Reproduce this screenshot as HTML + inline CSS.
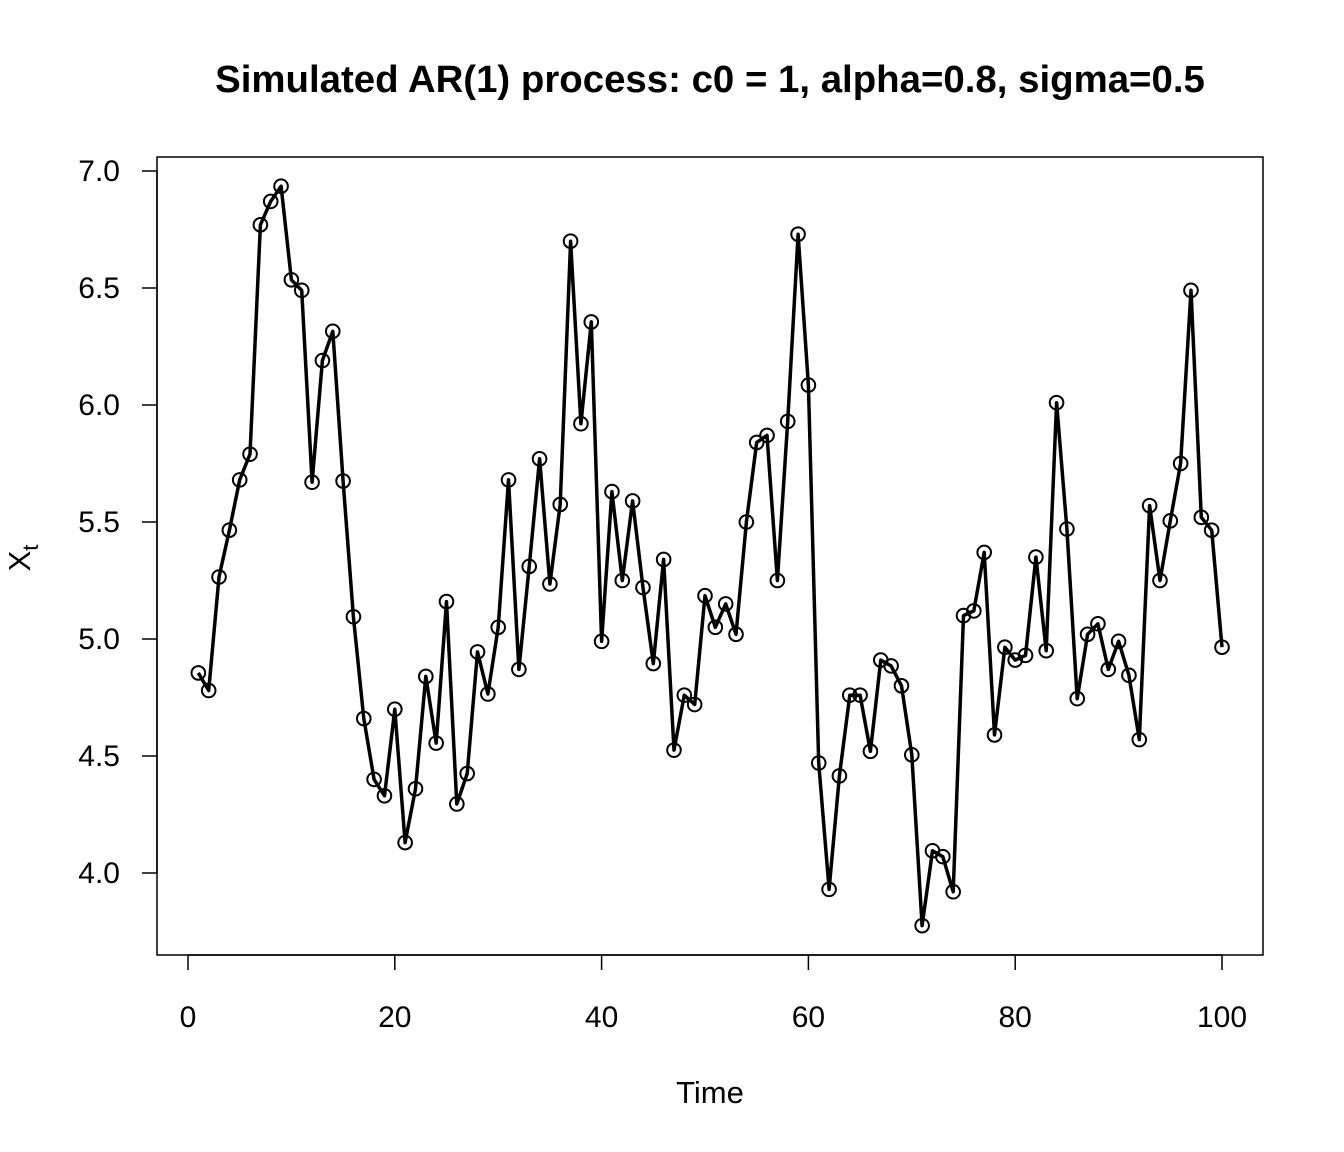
<!DOCTYPE html>
<html><head><meta charset="utf-8"><style>
html,body{margin:0;padding:0;background:#fff;}
svg{display:block;font-family:"Liberation Sans",Arial,sans-serif;}
</style></head><body>
<svg id="chart" width="1344" height="1152" viewBox="0 0 1344 1152">
<rect x="0" y="0" width="1344" height="1152" fill="#fff"/>
<text x="710" y="92" text-anchor="middle" font-size="38.4" font-weight="bold">Simulated AR(1) process: c0 = 1, alpha=0.8, sigma=0.5</text>
<rect x="157" y="157" width="1106" height="798" fill="none" stroke="#000" stroke-width="1.5"/>
<text x="710" y="1103" text-anchor="middle" font-size="31">Time</text>
<text transform="translate(30,558) rotate(-90)" text-anchor="middle" font-size="31">X<tspan font-size="22" dy="8">t</tspan></text>
<g id="xaxis"></g>
<g id="yaxis"></g>
<g id="series"></g>
</svg>
<script>
const xTicks=[0,20,40,60,80,100];
const yTicks=[4.0,4.5,5.0,5.5,6.0,6.5,7.0];
const yTickLabels=["4.0","4.5","5.0","5.5","6.0","6.5","7.0"];
const values=[4.855,4.78,5.265,5.465,5.68,5.79,6.77,6.87,6.935,6.535,
6.49,5.67,6.19,6.315,5.675,5.095,4.66,4.40,4.33,4.70,
4.13,4.36,4.84,4.555,5.16,4.295,4.425,4.945,4.765,5.05,
5.68,4.87,5.31,5.77,5.235,5.575,6.70,5.92,6.355,4.99,
5.63,5.25,5.59,5.22,4.895,5.34,4.525,4.76,4.72,5.185,
5.05,5.15,5.02,5.50,5.84,5.87,5.25,5.93,6.73,6.085,
4.47,3.93,4.415,4.76,4.76,4.52,4.91,4.885,4.80,4.505,
3.775,4.095,4.07,3.92,5.10,5.12,5.37,4.59,4.965,4.91,
4.93,5.35,4.95,6.01,5.47,4.745,5.02,5.065,4.87,4.99,
4.845,4.57,5.57,5.25,5.505,5.75,6.49,5.52,5.465,4.965];
const NS="http://www.w3.org/2000/svg";
function X(t){return 188+(t)*10.34;}
function Y(v){return 171+(7-v)*234;}
function mk(tag,attrs,parent){const e=document.createElementNS(NS,tag);for(const k in attrs)e.setAttribute(k,attrs[k]);parent.appendChild(e);return e;}
const xa=document.getElementById('xaxis'),ya=document.getElementById('yaxis'),sg=document.getElementById('series');
mk('line',{x1:X(xTicks[0]),x2:X(xTicks[xTicks.length-1]),y1:955,y2:955,stroke:'#000','stroke-width':1.5},xa);
xTicks.forEach(t=>{
 const l=mk('line',{x1:X(t),x2:X(t),y1:955,y2:970,stroke:'#000','stroke-width':1.5},xa);
 
 
 const tx=mk('text',{x:X(t),y:1027,'text-anchor':'middle','font-size':30},xa);tx.textContent=t;
 
 
});
mk('line',{x1:157,x2:157,y1:Y(yTicks[0]),y2:Y(yTicks[yTicks.length-1]),stroke:'#000','stroke-width':1.5},ya);
yTicks.forEach((v,i)=>{
 const l=mk('line',{x1:142,x2:157,y1:Y(v),y2:Y(v),stroke:'#000','stroke-width':1.5},ya);
 
 
 const tx=mk('text',{x:120,y:Y(v)+10,'text-anchor':'end','font-size':30},ya);tx.textContent=yTickLabels[i];
 
 
});
const pts=values.map((v,i)=>X(i+1).toFixed(1)+','+Y(v).toFixed(1)).join(' ');
const pl=mk('polyline',{points:pts,fill:'none',stroke:'#000','stroke-width':3.5,'stroke-linejoin':'round'},sg);


values.forEach((v,i)=>{
 const c=mk('circle',{cx:X(i+1),cy:Y(v),r:6.8,fill:'none',stroke:'#000','stroke-width':2},sg);
 
 
});
</script>
</body></html>
